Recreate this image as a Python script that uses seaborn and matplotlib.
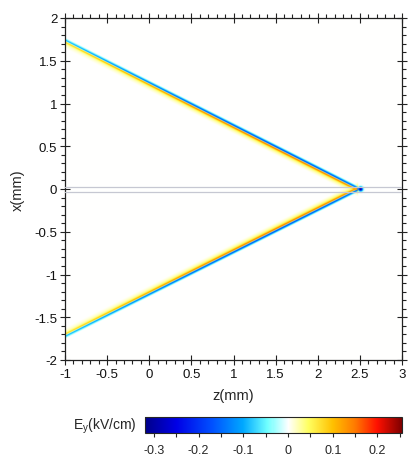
import numpy as np
import matplotlib
matplotlib.use("Agg")
import matplotlib.pyplot as plt
from matplotlib.colors import LinearSegmentedColormap
from matplotlib.ticker import MultipleLocator
import seaborn as sns

# Wake geometry (mm): apex of the V and the arm positions at the left edge
apex_z = 2.47
arm_end_z = -1.0
arm_end_x = [1.73, -1.71]          # upper arm, lower arm

# Cross-section of one arm: offset from arm centre (mm, + = outward) -> E_y (kV/cm)
profile_offset = [-0.085, -0.06, -0.04, -0.025, -0.013, -0.004, 0.004, 0.012, 0.02, 0.03, 0.042]
profile_ey     = [0.0, 0.015, 0.035, 0.07, 0.16, 0.13, -0.08, -0.21, -0.13, -0.06, 0.0]

# Strength of the arm along z
strength_z = [-1.0, -0.3, 0.5, 1.5, 2.2, 2.47]
strength   = [0.5, 0.7, 0.9, 1.0, 0.95, 0.85]

# Small negative spot just ahead of the apex
spot_z, spot_x, spot_ey, spot_r = 2.51, 0.0, -0.32, 0.017

# Colour scale
cbar_ticks = [-0.3, -0.2, -0.1, 0, 0.1, 0.2]
vmin, vmax = -0.32, 0.255
cmap_values = [-0.32, -0.25, -0.17, -0.1, -0.045, 0.0, 0.045, 0.1, 0.15, 0.2, 0.255]
cmap_colors = ["#00008a", "#0000e6", "#0050ff", "#00a8ff", "#70ffff", "#ffffff",
               "#ffff60", "#ffc000", "#ff7a00", "#ff1000", "#800000"]

sns.set_style("ticks")
plt.rcParams["font.family"] = ["Liberation Sans", "DejaVu Sans"]

# Field grid
z = np.linspace(-1, 3, 1400)
x = np.linspace(-2, 2, 1600)
Z, X = np.meshgrid(z, x)
E = np.zeros_like(Z)
amp = np.interp(Z, strength_z, strength)
for xe in arm_end_x:
    slope = xe / (apex_z - arm_end_z)
    xc = slope * (apex_z - Z)
    v = (X - xc) * np.sign(xe)
    val = np.interp(v, profile_offset, profile_ey, left=0, right=0) * amp
    val[Z > apex_z + 0.01] = 0
    E = np.where(np.abs(val) > np.abs(E), val, E)
E += spot_ey * np.exp(-((Z - spot_z) ** 2 + (X - spot_x) ** 2) / (2 * spot_r ** 2))

pos = [(v - vmin) / (vmax - vmin) for v in cmap_values]
cmap = LinearSegmentedColormap.from_list("ey", list(zip(pos, cmap_colors)))

fig = plt.figure(figsize=(4.08, 4.60), dpi=100)
ax = fig.add_axes([65 / 408, 1 - 361 / 460, 337 / 408, 342 / 460])
im = ax.imshow(E, extent=[-1, 3, -2, 2], origin="lower", aspect="auto",
               cmap=cmap, vmin=vmin, vmax=vmax, interpolation="bilinear")
for yl in (0.024, -0.03):
    ax.axhline(yl, color="#c6c8d2", lw=0.9, zorder=3)

ax.set_xlim(-1, 3)
ax.set_ylim(-2, 2)
ax.xaxis.set_major_locator(MultipleLocator(0.5))
ax.xaxis.set_minor_locator(MultipleLocator(0.1))
ax.yaxis.set_major_locator(MultipleLocator(0.5))
ax.yaxis.set_minor_locator(MultipleLocator(0.1))
ax.xaxis.set_major_formatter(plt.FuncFormatter(lambda v, p: f"{v:g}"))
ax.yaxis.set_major_formatter(plt.FuncFormatter(lambda v, p: f"{v:g}"))
ax.tick_params(which="both", top=True, right=True, labelsize=9.5, color="#222222",
               labelcolor="#111111", width=0.8)
ax.tick_params(which="major", direction="inout", length=7, pad=2)
ax.tick_params(which="minor", direction="out", length=3)
for s in ax.spines.values():
    s.set_linewidth(0.9)
    s.set_color("#222222")
ax.set_xlabel("z(mm)", fontsize=10.5, labelpad=6)
ax.set_ylabel("x(mm)", fontsize=10.5, labelpad=7)

cax = fig.add_axes([145 / 408, 1 - 434 / 460, 257 / 408, 16 / 460])
cb = fig.colorbar(im, cax=cax, orientation="horizontal")
cb.set_ticks(cbar_ticks)
cb.ax.xaxis.set_minor_locator(MultipleLocator(0.05))
cb.ax.xaxis.set_major_formatter(plt.FuncFormatter(lambda v, p: f"{v:g}"))
cb.ax.tick_params(which="both", direction="out", length=3, width=0.8, labelsize=9, pad=5)
cb.outline.set_linewidth(0.8)
fig.text(137 / 408, 1 - 426 / 460, "E$_\\mathregular{y}$(kV/cm)", ha="right", va="center", fontsize=10)

fig.savefig("out.png", dpi=100)
